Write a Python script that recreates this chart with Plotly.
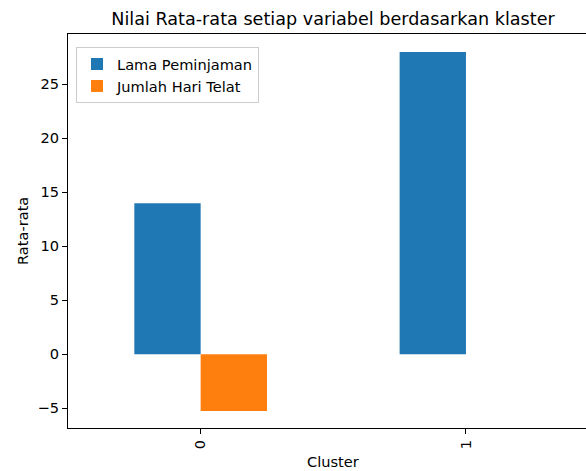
import plotly.graph_objects as go

clusters = ["0", "1"]
lama_peminjaman = [14.0, 28.0]
jumlah_hari_telat = [-5.25, 0.0]

W, H = 586, 471
L, R, T, B = 68, 0, 34, 43
PW, PH = W - L - R, H - T - B

fig = go.Figure()
fig.add_trace(go.Bar(x=clusters, y=lama_peminjaman, name="Lama Peminjaman",
                     marker=dict(color="#1f77b4", line=dict(width=0))))
fig.add_trace(go.Bar(x=clusters, y=jumlah_hari_telat, name="Jumlah Hari Telat",
                     marker=dict(color="#ff7f0e", line=dict(width=0))))

font = "DejaVu Sans, Verdana, sans-serif"
FS = 14.6
fig.update_layout(
    width=W, height=H,
    margin=dict(l=L, r=R, t=T, b=B, pad=0, autoexpand=False),
    paper_bgcolor="white", plot_bgcolor="white",
    barmode="group", bargap=0.5, bargroupgap=0,
    font=dict(family=font, size=FS, color="black"),
    title=dict(text="Nilai Rata-rata setiap variabel berdasarkan klaster",
               x=333 / W, xref="container", xanchor="center",
               y=1 - 19 / H, yref="container", yanchor="middle",
               font=dict(size=17.6, family=font, color="black")),
    legend=dict(x=(76 - L) / PW, y=(H - B - 47) / PH,
                xanchor="left", yanchor="top",
                bordercolor="#cccccc", borderwidth=1, bgcolor="rgba(255,255,255,0.8)",
                font=dict(size=FS, family=font, color="black"),
                tracegroupgap=2),
    xaxis=dict(range=[-0.5, -0.5 + PW / 265.3], type="category", automargin=False,
               showline=True, linecolor="black", linewidth=1, mirror=True,
               ticks="outside", ticklen=5, tickcolor="black", tickangle=-90,
               tickfont=dict(size=FS), showgrid=False, zeroline=False),
    yaxis=dict(range=[-6.82, 29.66], tickmode="array", automargin=False,
               tickvals=[-5, 0, 5, 10, 15, 20, 25],
               showline=True, linecolor="black", linewidth=1, mirror=False,
               ticks="outside", ticklen=5, tickcolor="black",
               tickfont=dict(size=FS), showgrid=False, zeroline=False),
    annotations=[
        dict(text="Cluster", xref="paper", yref="paper", x=(333 - L) / PW,
             y=-(461 - (T + PH)) / PH, xanchor="center", yanchor="middle",
             showarrow=False, font=dict(size=FS, family=font, color="black")),
        dict(text="Rata-rata", xref="paper", yref="paper", x=-(L - 22) / PW,
             y=0.5, xanchor="center", yanchor="middle", textangle=-90,
             showarrow=False, font=dict(size=FS, family=font, color="black")),
    ],
)

fig.write_html("out.html", config={"displayModeBar": False},
               post_script="document.body.style.margin='0';document.body.style.overflow='hidden';")
